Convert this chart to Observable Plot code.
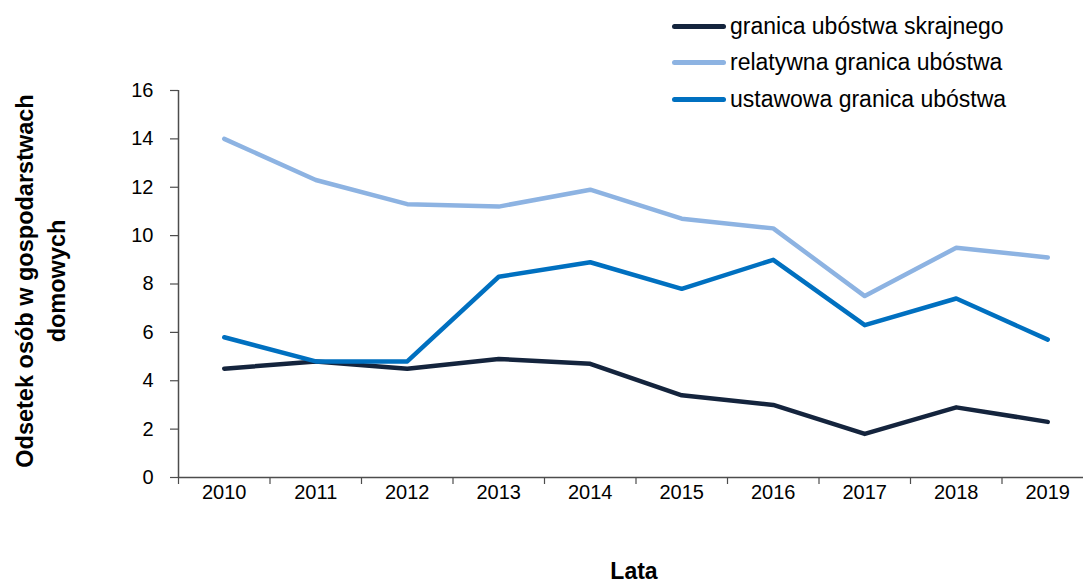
<!DOCTYPE html>
<html><head><meta charset="utf-8">
<script src="https://cdn.jsdelivr.net/npm/d3@7"></script>
<script src="https://cdn.jsdelivr.net/npm/@observablehq/plot@0.6"></script>
<style>
body{margin:0;background:#fff;font-family:"Liberation Sans",Arial,sans-serif;}
#wrap{position:relative;width:1083px;height:585px;}
#legend{position:absolute;left:672px;top:8px;font-size:23px;color:#000;}
.item{display:flex;align-items:center;height:36.5px;}
.sw{width:54px;height:5px;border-radius:3px;margin-right:4px;}
</style></head>
<body><div id="wrap"><div id="legend"></div></div>
<script>
const years = [2010, 2011, 2012, 2013, 2014, 2015, 2016, 2017, 2018, 2019];
const seriesNames = ["granica ubóstwa skrajnego", "relatywna granica ubóstwa", "ustawowa granica ubóstwa"];
const skrajnego = [4.5, 4.8, 4.5, 4.9, 4.7, 3.4, 3.0, 1.8, 2.9, 2.3];
const relatywna = [14.0, 12.3, 11.3, 11.2, 11.9, 10.7, 10.3, 7.5, 9.5, 9.1];
const ustawowa = [5.8, 4.8, 4.8, 8.3, 8.9, 7.8, 9.0, 6.3, 7.4, 5.7];
const yTicks = [0, 2, 4, 6, 8, 10, 12, 14, 16];
const colors = ["#14243d", "#8db3e2", "#0070c0"];
const yLabel = "Odsetek osób w gospodarstwach\ndomowych";
const xLabel = "Lata";

const valuesList = [skrajnego, relatywna, ustawowa];
const data = [];
valuesList.forEach((vals, si) => years.forEach((yr, i) => data.push({year: yr, value: vals[i], series: seriesNames[si]})));
const x0 = years[0] - 0.5, x1 = years[years.length - 1] + 0.5;
const boundaries = years.map(y => y - 0.5).concat([x1]);

const axisColor = "#4d4d4d";
const chart = Plot.plot({
  width: 1083,
  height: 585,
  marginLeft: 178,
  marginRight: 0,
  marginTop: 90,
  marginBottom: 108,
  style: {fontFamily: "Liberation Sans, Arial, sans-serif", fontSize: "20px", color: "#000", background: "transparent"},
  x: {domain: [x0, x1], range: [178, 1093], axis: null},
  y: {domain: [0, 16], axis: null},
  color: {domain: seriesNames, range: colors},
  marks: [
    Plot.ruleX([x0], {x: d => d, y1: 0, y2: 16, stroke: axisColor, strokeWidth: 1.5}),
    Plot.ruleY([0], {x1: x0, x2: x1 + 1, stroke: axisColor, strokeWidth: 1.5}),
    Plot.axisY(yTicks, {tickSize: 8, tickPadding: 17, stroke: axisColor, strokeWidth: 1.2, fontSize: 20, color: "#000", tickFormat: d => String(d), label: null}),
    Plot.axisX(boundaries, {tickSize: 7, tickFormat: () => "", stroke: axisColor, strokeWidth: 1.2, label: null}),
    Plot.axisX(years, {tickSize: 0, tickPadding: 7, fontSize: 20, tickFormat: d => String(d), label: null}),
    Plot.line(data, {x: "year", y: "value", z: "series", stroke: "series", strokeWidth: 4.5, strokeLinecap: "round", strokeLinejoin: "round"}),
    Plot.text([yLabel], {frameAnchor: "left", textAnchor: "middle", dx: -140, dy: -3, rotate: -90, lineHeight: 1.35, fontSize: 23.5, fontWeight: "bold"}),
    Plot.text([xLabel], {frameAnchor: "bottom", dx: 3, dy: 101, fontSize: 23, fontWeight: "bold"})
  ]
});
document.getElementById("wrap").appendChild(chart);
const legend = document.getElementById("legend");
seriesNames.forEach((n, i) => {
  const it = document.createElement("div"); it.className = "item";
  const sw = document.createElement("div"); sw.className = "sw"; sw.style.background = colors[i];
  const t = document.createElement("span"); t.textContent = n;
  it.appendChild(sw); it.appendChild(t); legend.appendChild(it);
});
</script></body></html>
